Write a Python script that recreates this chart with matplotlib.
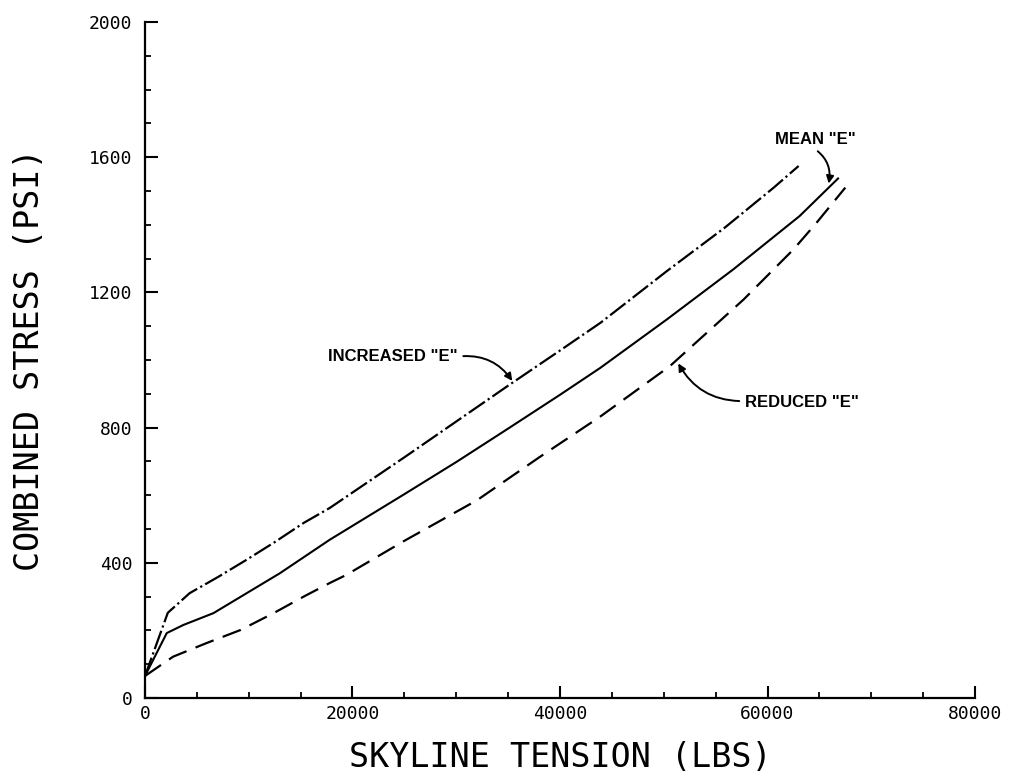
import matplotlib
matplotlib.use("Agg")
import matplotlib.pyplot as plt
from matplotlib.ticker import MultipleLocator

# skyline tension (lbs) vs combined stress (psi)
x_inc = [0, 2200, 4300, 7100, 9800, 12500, 15300, 17800, 25000, 30000,
         35000, 40000, 43900, 50300, 55900, 60600, 63000]
y_inc = [65, 252, 310, 359, 409, 461, 518, 562, 712, 818,
         924, 1028, 1110, 1263, 1392, 1510, 1574]

x_mean = [0, 2100, 3700, 6600, 9800, 13000, 17800, 25000, 30000, 35000,
          40000, 43900, 50300, 56700, 63100, 66800]
y_mean = [65, 192, 216, 251, 310, 369, 468, 603, 698, 797,
          897, 977, 1120, 1268, 1426, 1537]

x_red = [0, 2700, 5900, 9200, 12400, 15300, 17800, 19400, 25000, 32000,
         38000, 43900, 50600, 57700, 62500, 64700, 67500]
y_red = [65, 122, 162, 201, 251, 300, 340, 364, 465, 585,
         712, 833, 982, 1179, 1327, 1405, 1510]

xticks = [0, 20000, 40000, 60000, 80000]
yticks = [0, 400, 800, 1200, 1600, 2000]

plt.rcParams["lines.scale_dashes"] = False
MONO = "DejaVu Sans Mono"
LBL = ["Liberation Sans Narrow", "Liberation Sans", "DejaVu Sans"]

fig = plt.figure(figsize=(10.11, 7.83), dpi=100)
ax = fig.add_axes([0.1434, 0.1086, 0.821, 0.8633])

ax.plot(x_inc, y_inc, color="black", lw=1.6, linestyle=(0, (14, 2.5, 1.6, 2.5)))
ax.plot(x_mean, y_mean, color="black", lw=1.5)
ax.plot(x_red, y_red, color="black", lw=1.6, linestyle=(0, (14, 7)))

ax.set_xlim(0, 80000)
ax.set_ylim(0, 2000)
ax.set_xticks(xticks)
ax.set_yticks(yticks)
ax.set_xticklabels([str(v) for v in xticks], fontfamily=MONO, fontsize=13)
ax.set_yticklabels([str(v) for v in yticks], fontfamily=MONO, fontsize=13)
ax.xaxis.set_minor_locator(MultipleLocator(5000))
ax.yaxis.set_minor_locator(MultipleLocator(100))
ax.tick_params(which="major", direction="in", length=9, width=1.5)
ax.tick_params(axis="x", which="major", pad=5)
ax.tick_params(axis="y", which="major", pad=9)
ax.tick_params(which="minor", direction="in", length=4.5, width=1.3)

for s in ["top", "right"]:
    ax.spines[s].set_visible(False)
for s in ["left", "bottom"]:
    ax.spines[s].set_linewidth(1.6)

ax.set_xlabel("SKYLINE TENSION (LBS)", fontfamily=MONO, fontsize=24)
ax.set_ylabel("COMBINED STRESS (PSI)", fontfamily=MONO, fontsize=24)
ax.xaxis.set_label_coords(0.5, -0.088)
ax.xaxis.label.set_va("center")
ax.yaxis.set_label_coords(-0.139, 0.5)
ax.yaxis.label.set_va("center")

arrow = dict(arrowstyle="-|>", color="black", lw=1.4, mutation_scale=11,
             shrinkA=2, shrinkB=0)

ax.annotate('MEAN "E"', xy=(65900, 1522), xytext=(64600, 1653),
            ha="center", va="center", fontfamily=LBL, fontweight="bold",
            fontsize=12,
            arrowprops=dict(arrow, connectionstyle="arc3,rad=-0.35",
                            relpos=(0.45, 0.0)))
ax.annotate('REDUCED "E"', xy=(51400, 990), xytext=(63300, 874),
            ha="center", va="center", fontfamily=LBL, fontweight="bold",
            fontsize=12,
            arrowprops=dict(arrow, connectionstyle="arc3,rad=-0.3",
                            relpos=(0.0, 0.6)))
ax.annotate('INCREASED "E"', xy=(35400, 938), xytext=(23900, 1010),
            ha="center", va="center", fontfamily=LBL, fontweight="bold",
            fontsize=12,
            arrowprops=dict(arrow, connectionstyle="arc3,rad=-0.3",
                            relpos=(1.0, 0.5)))

fig.savefig("out.png", dpi=100)
